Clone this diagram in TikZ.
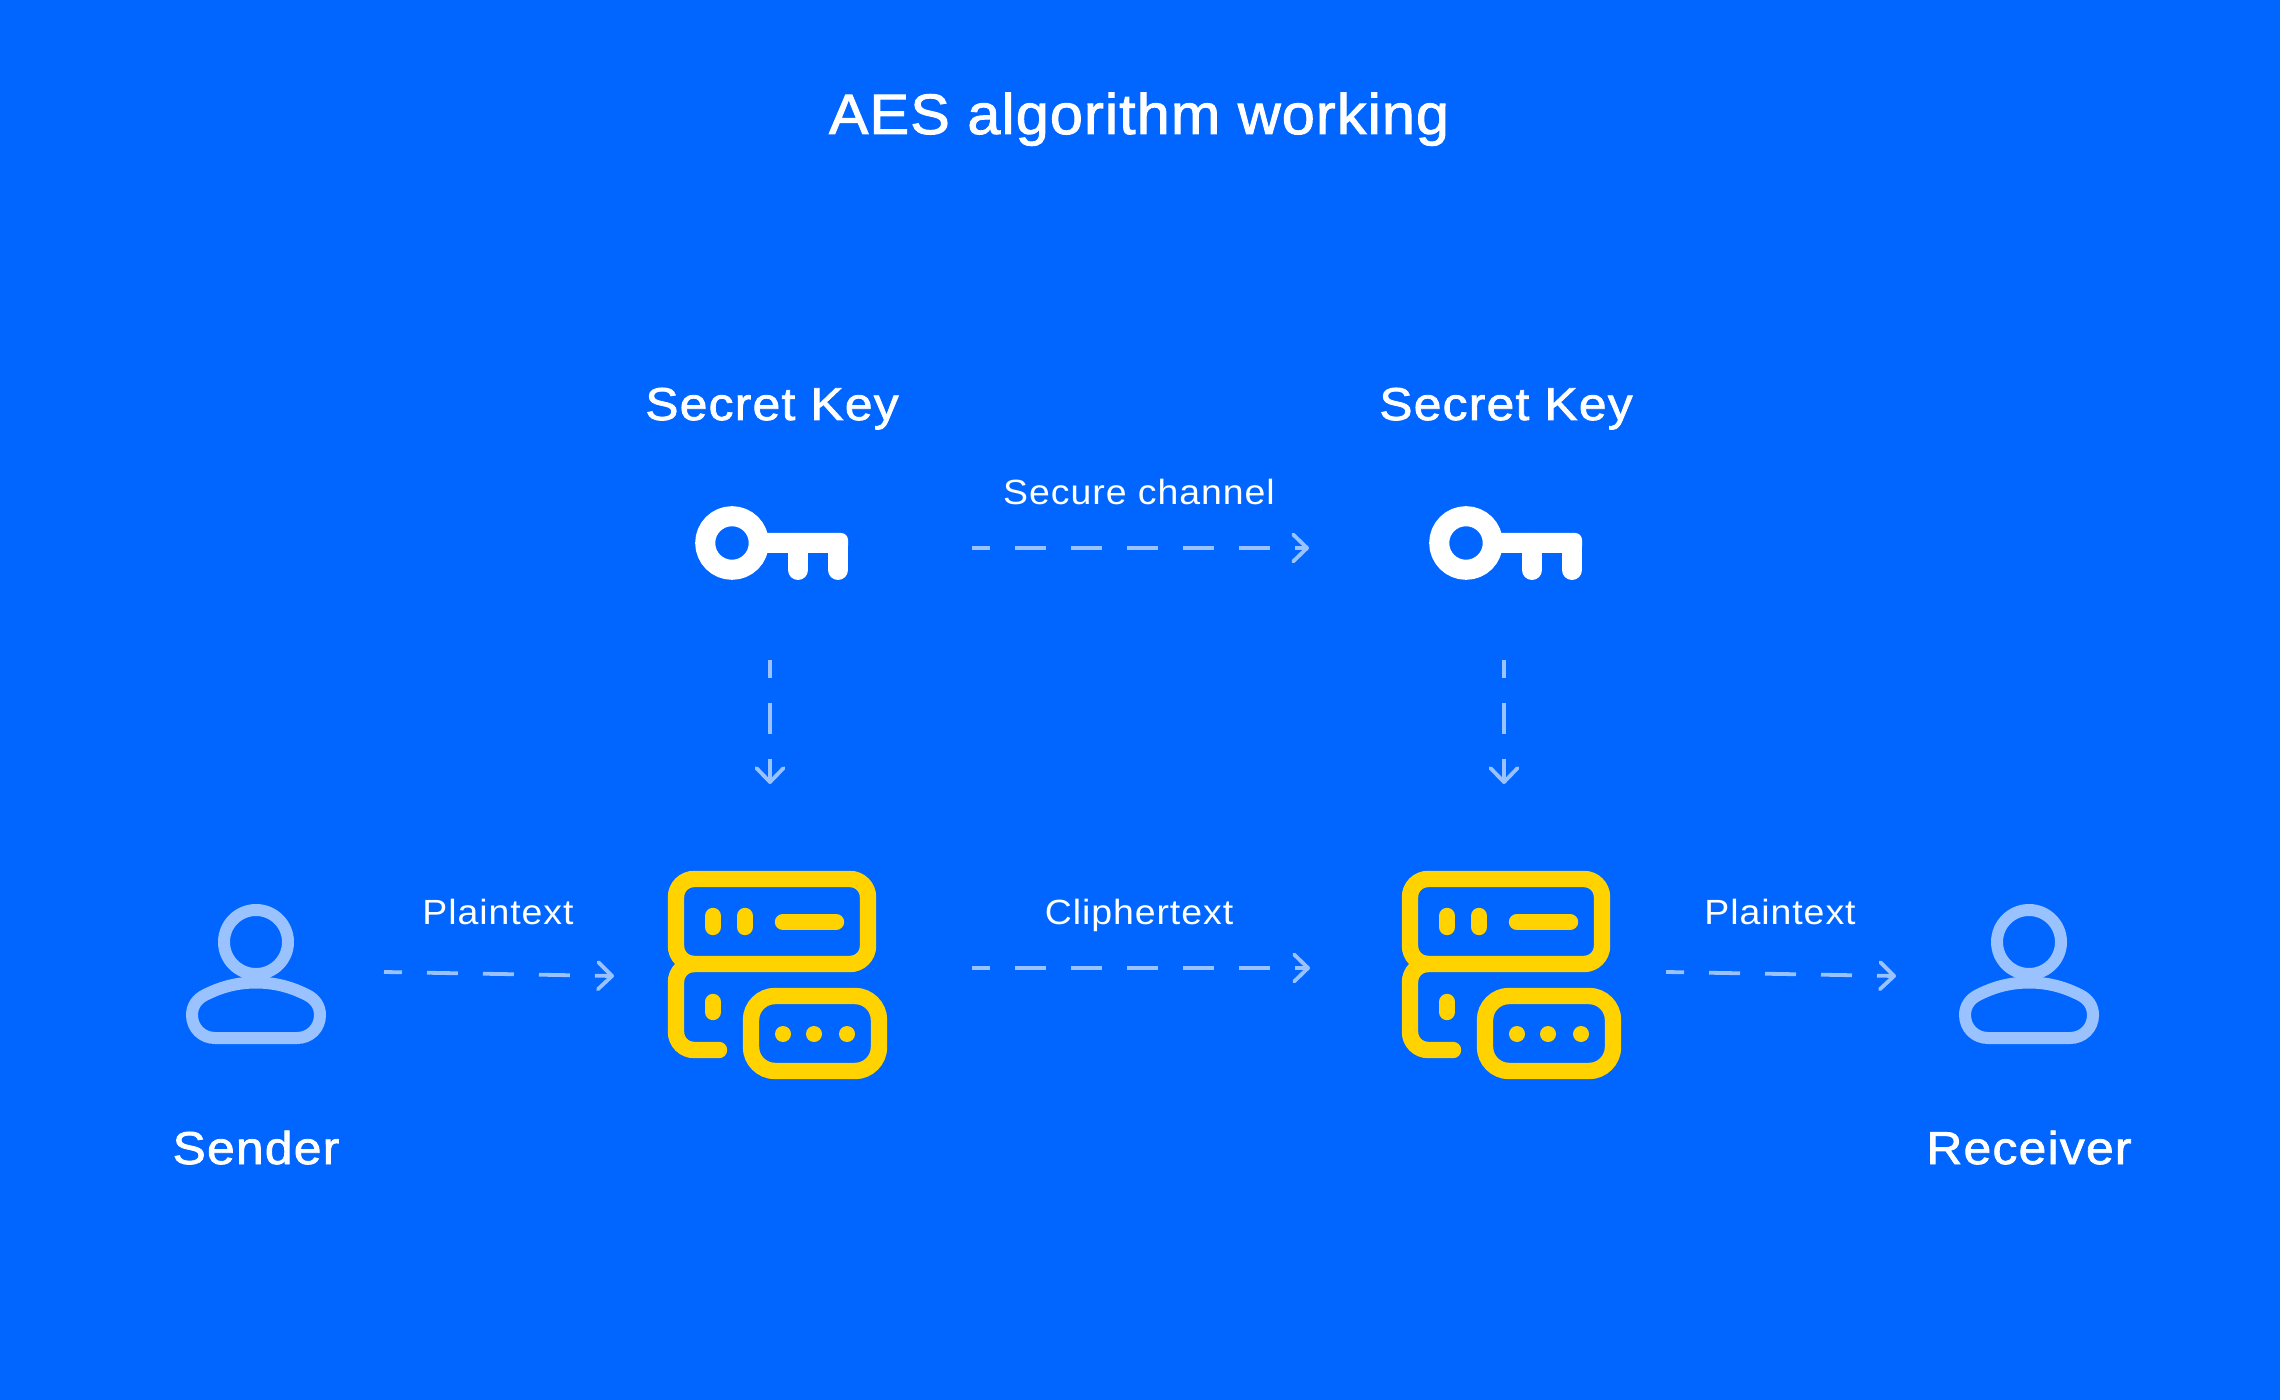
\documentclass[tikz,border=0pt]{standalone}
\usepackage{fontspec}
\usetikzlibrary{arrows.meta,calc}
\setmainfont{Liberation Sans}
\newfontfamily\titlefont[FakeBold=1.7,FakeStretch=1.04,LetterSpace=2]{Liberation Sans}
\newfontfamily\headfont[FakeBold=1.7,FakeStretch=1.08,LetterSpace=2.8]{Liberation Sans}
\newfontfamily\labelfont[FakeStretch=1.07,LetterSpace=2.7]{Liberation Sans}
\definecolor{bgblue}{HTML}{0066FF}
\definecolor{paleblue}{HTML}{99C2FF}
\definecolor{iconyellow}{HTML}{FFD200}
\tikzset{
  slot/.style={inner sep=0pt,outer sep=0pt,draw=none},
  title/.style={anchor=base,text=white,inner sep=0pt,font=\titlefont\fontsize{28.5}{34}\selectfont},
  heading/.style={anchor=base,text=white,inner sep=0pt,font=\headfont\fontsize{23}{28}\selectfont},
  label/.style={anchor=base,text=white,inner sep=0pt,font=\labelfont\fontsize{17.5}{21}\selectfont},
  conn/.style={draw=paleblue,line width=1.9pt,dash pattern=on 15.5pt off 12.5pt,dash phase=6.5pt,
    -{Straight Barb[length=7pt,width=13.5pt,line width=1.9pt,round]}},
  keyicon/.pic={
    \draw[white,line width=10pt] (0,0) circle[radius=13.4pt];
    \fill[white,rounded corners=3.5pt] (20,-10) -- (116,-10) -- (116,10) -- (20,10) -- cycle;
    \draw[white,line width=10pt,line cap=round] (106,0) -- (106,27);
    \draw[white,line width=10pt,line cap=round] (66,0) -- (66,27);
  },
  servericon/.pic={
    \begin{scope}[draw=iconyellow,line width=8.2pt,line cap=round]
      \draw[rounded corners=9pt] (8,8) rectangle (200,93);
      \draw (45,45) -- (45,56);
      \draw (77,45) -- (77,56);
      \draw (115,51) -- (168,51);
      \draw[rounded corners=9pt] (24,93) -- (8,93) -- (8,179) -- (51,179);
      \draw (45,131) -- (45,141);
      \draw[rounded corners=12pt] (83,125) rectangle (211,200);
    \end{scope}
    \fill[iconyellow] (115,163) circle[radius=4pt] (146,163) circle[radius=4pt] (179,163) circle[radius=4pt];
  },
  personicon/.pic={
    \draw[paleblue,line width=6pt] (0,0) circle[radius=16pt];
    \draw[paleblue,line width=6pt] (0,40.5) .. controls (-24,40.5) and (-41,48) .. (-51,53)
      .. controls (-59,57) and (-64,64) .. (-64,73)
      .. controls (-64,86) and (-54,96) .. (-41,96) -- (41,96)
      .. controls (54,96) and (64,86) .. (64,73)
      .. controls (64,64) and (59,57) .. (51,53)
      .. controls (41,48) and (24,40.5) .. (0,40.5) -- cycle;
  },
}
\begin{document}
\begin{tikzpicture}[x=0.5pt,y=-0.5pt]
\fill[bgblue] (0,0) rectangle (2280,1400);
\useasboundingbox (0,0) rectangle (2280,1400);

% invisible slots for the icons
\node[slot,minimum width=64pt,minimum height=33pt] (sender) at (256,974) {};
\node[slot,minimum width=64pt,minimum height=33pt] (receiver) at (2029,974) {};
\node[slot,minimum width=80pt,minimum height=37pt] (key1) at (770,542) {};
\node[slot,minimum width=80pt,minimum height=37pt] (key2) at (1504,542) {};
\node[slot,minimum width=104pt,minimum height=104pt] (server1) at (770,974) {};
\node[slot,minimum width=104pt,minimum height=104pt] (server2) at (1504,974) {};

\pic at (732,543) {keyicon};
\pic at (1466,543) {keyicon};
\pic at (668,871) {servericon};
\pic at (1402,871) {servericon};
\pic at (256,942) {personicon};
\pic at (2029,942) {personicon};

% texts
\node[title] (ttl) at (1139,134) {AES algorithm working};
\node[heading] (sk1) at (772,420) {Secret Key};
\node[heading] (sk2) at (1506,420) {Secret Key};
\node[heading] (snd) at (256,1164) {Sender};
\node[heading] (rcv) at (2029,1164) {Receiver};
\node[label] (lsc) at (1139,505) {Secure channel};
\node[label] (lct) at (1139,924) {Cliphertext};
\node[label] (lp1) at (498,924) {Plaintext};
\node[label] (lp2) at (1780,924) {Plaintext};

% connectors
\draw[conn] ($(key1.east)+(122,6)$) -- ($(key2.west)+(-115,6)$);
\draw[conn] ($(key1.south)+(0,81)$) -- ($(server1.north)+(0,-86)$);
\draw[conn] ($(key2.south)+(0,81)$) -- ($(server2.north)+(0,-86)$);
\draw[conn] ($(sender.east)+(64,-2)$) -- ($(server1.west)+(-52,2)$);
\draw[conn] ($(server1.east)+(98,-6)$) -- ($(server2.west)+(-90,-6)$);
\draw[conn] ($(server2.east)+(58,-2)$) -- ($(receiver.west)+(-69,2)$);
\end{tikzpicture}
\end{document}
